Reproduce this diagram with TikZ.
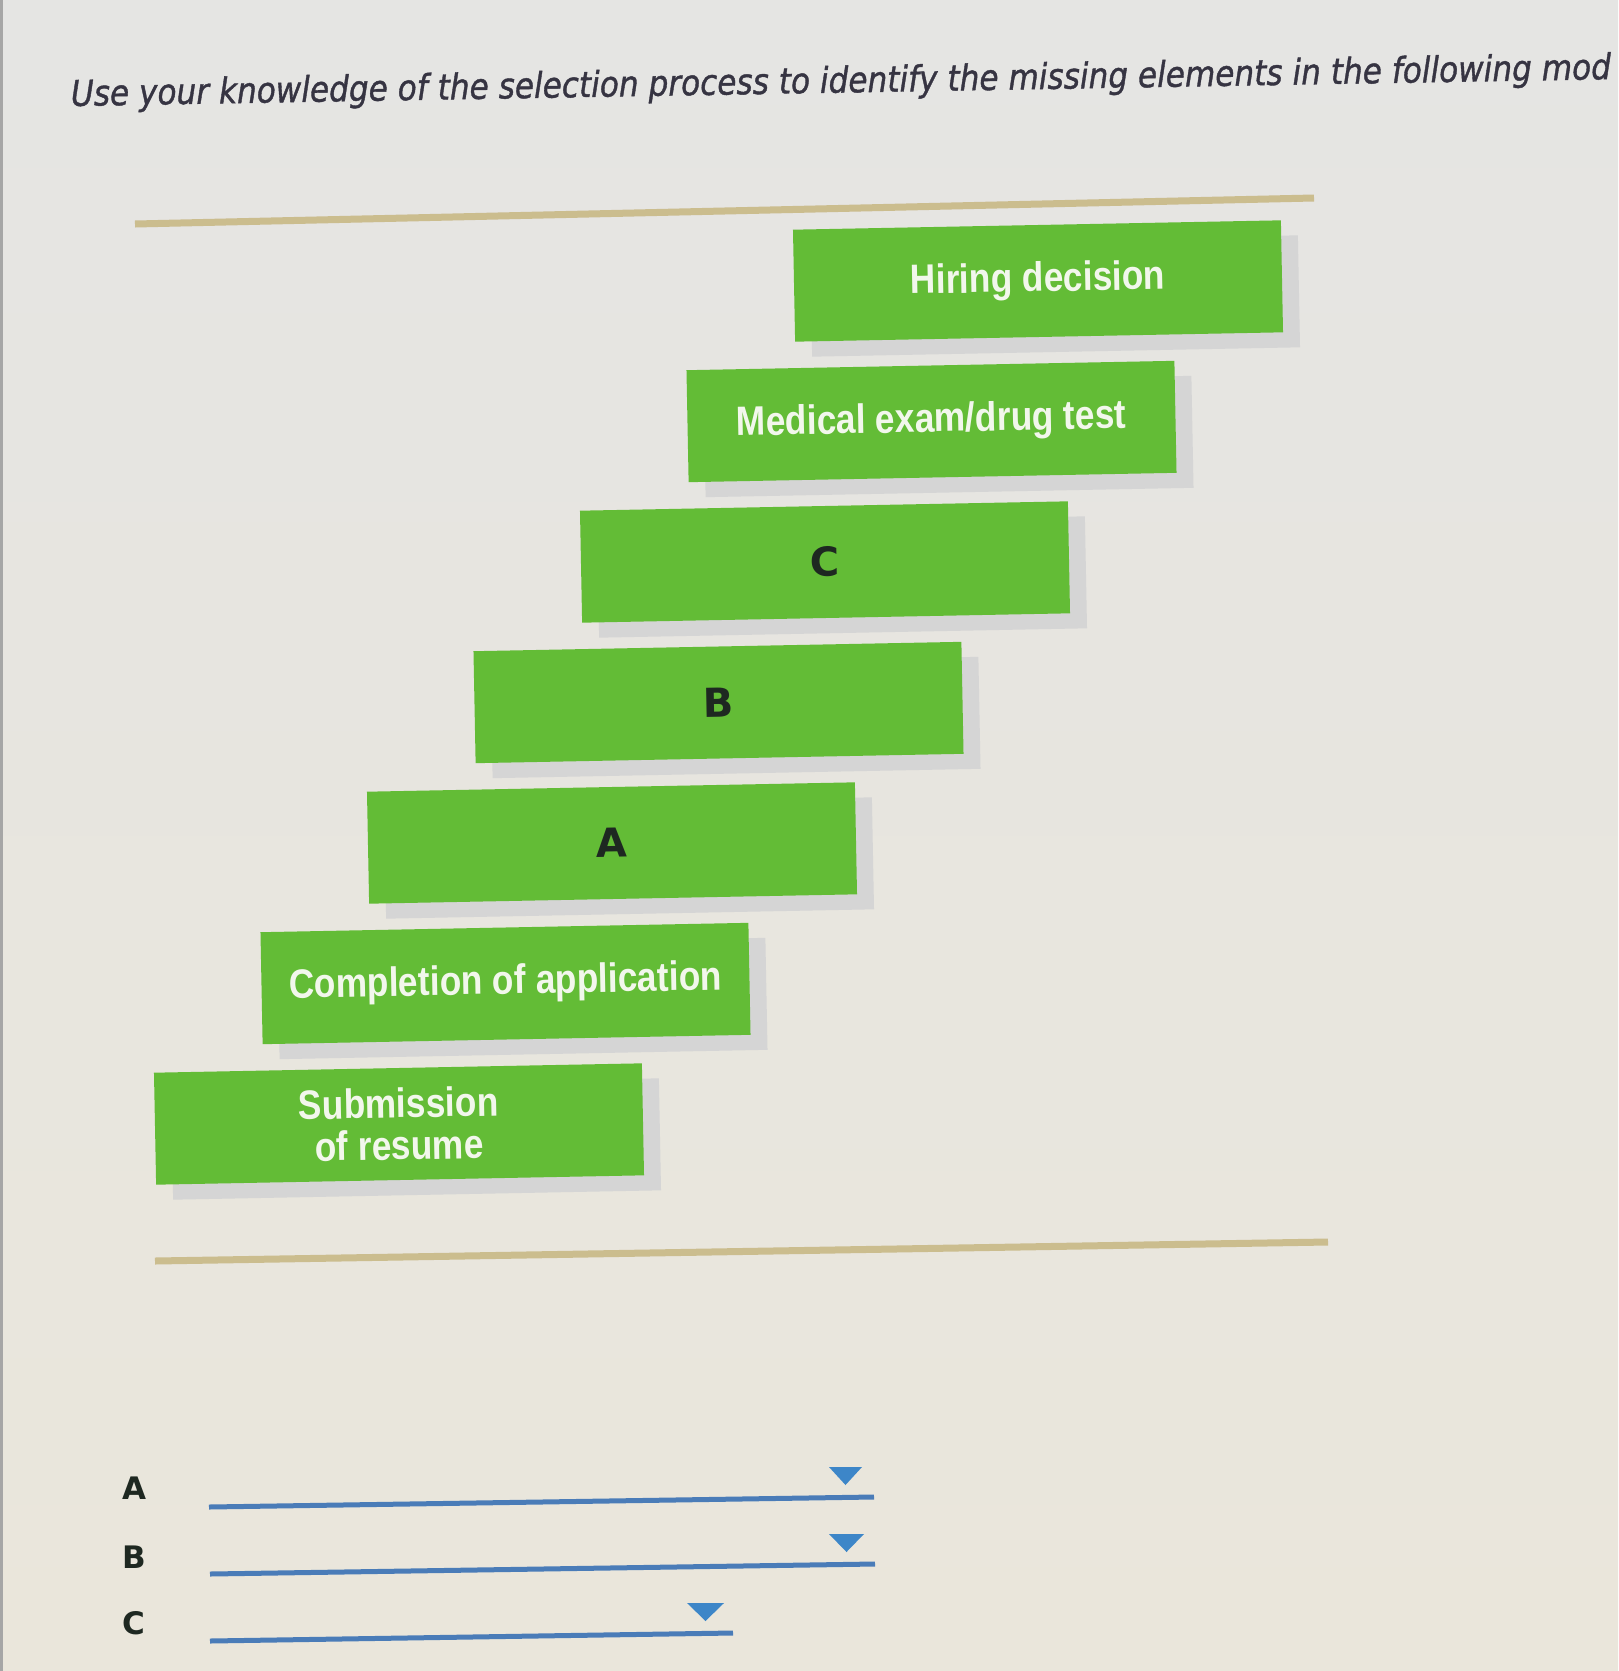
\documentclass[tikz,border=0pt]{standalone}
\usepackage{fontspec}
\usepackage{graphicx}
\usetikzlibrary{shadows}
\newfontfamily\boxfont[FakeStretch=0.86]{Liberation Sans}
\newfontfamily\verdfont{DejaVu Sans}
\newfontfamily\titlefont[FakeBold=1.2]{DejaVu Sans}
\definecolor{boxgreen}{HTML}{63BC36}
\definecolor{boxtext}{HTML}{F2F7EC}
\definecolor{lettercol}{HTML}{1E2821}
\definecolor{shadowgrey}{HTML}{D5D5D5}
\definecolor{tanline}{HTML}{CBBD8E}
\definecolor{ansblue}{HTML}{4A7CB8}
\definecolor{triblue}{HTML}{3D86C8}
\definecolor{titlecol}{HTML}{363442}
\definecolor{bgtop}{HTML}{E5E5E3}
\definecolor{bgbot}{HTML}{EAE6DB}
\tikzset{
  stepbox/.style={rectangle, fill=boxgreen, minimum width=488pt, minimum height=112pt,
    inner sep=0pt, rotate=1.1, text=boxtext, align=center,
    font=\boxfont\bfseries\fontsize{41}{42}\selectfont,
    drop shadow={shadow xshift=17pt, shadow yshift=-15pt, fill=shadowgrey, opacity=1}},
  letterbox/.style={stepbox, text=lettercol, font=\verdfont\bfseries\fontsize{40}{44}\selectfont},
  ruleline/.style={draw=tanline, line width=7pt},
  ansline/.style={draw=ansblue, line width=5pt},
  anslabel/.style={inner sep=0pt, text=lettercol, font=\verdfont\bfseries\fontsize{31}{34}\selectfont},
  dropmark/.style={fill=triblue}
}
\begin{document}
\begin{tikzpicture}[x=1pt,y=-1pt]
\useasboundingbox (0,0) rectangle (1618,1671);
\shade[top color=bgtop, bottom color=bgbot] (0,0) rectangle (1618,1671);
\fill[gray!70] (0,0) rectangle (2.5,1671);
% title
\node[anchor=base west, inner sep=0pt, rotate=1, text=titlecol] (title) at (71,106)
  {\resizebox{1540pt}{27pt}{\titlefont\itshape\fontsize{30}{36}\selectfont Use your knowledge of the selection process to identify the missing elements in the following mod}};
% rules
\coordinate (tl) at (135,224);
\coordinate (tr) at (1314,198);
\coordinate (bl) at (155,1261);
\coordinate (br) at (1328,1242);
\draw[ruleline] (tl) -- (tr);
\draw[ruleline] (bl) -- (br);
% staircase boxes
\node[stepbox] (s0) at (399,1124) {Submission\\of resume};
\node[stepbox] (s1) at (505.5,983.5) {Completion of application};
\node[letterbox] (s2) at (612,843) {A};
\node[letterbox] (s3) at (718.5,702.5) {B};
\node[letterbox] (s4) at (825,562) {C};
\node[stepbox] (s5) at (931.5,421.5) {Medical exam/drug test};
\node[stepbox] (s6) at (1038,281) {Hiring decision};
% answers
\node[anslabel] (la) at (134,1488) {A};
\node[anslabel] (lb) at (134,1557) {B};
\node[anslabel] (lc) at (134,1623) {C};
\coordinate (a1) at (209,1507); \coordinate (a2) at (874,1497);
\coordinate (b1) at (210,1574); \coordinate (b2) at (875,1564);
\coordinate (c1) at (210,1641); \coordinate (c2) at (733,1633);
\draw[ansline] (a1) -- (a2);
\draw[ansline] (b1) -- (b2);
\draw[ansline] (c1) -- (c2);
\fill[dropmark] (829,1467) -- (862,1467) -- (845.5,1485) -- cycle;
\fill[dropmark] (829,1534) -- (864,1534) -- (846.5,1552) -- cycle;
\fill[dropmark] (687,1603) -- (724,1603) -- (705.5,1621) -- cycle;
\end{tikzpicture}
\end{document}
